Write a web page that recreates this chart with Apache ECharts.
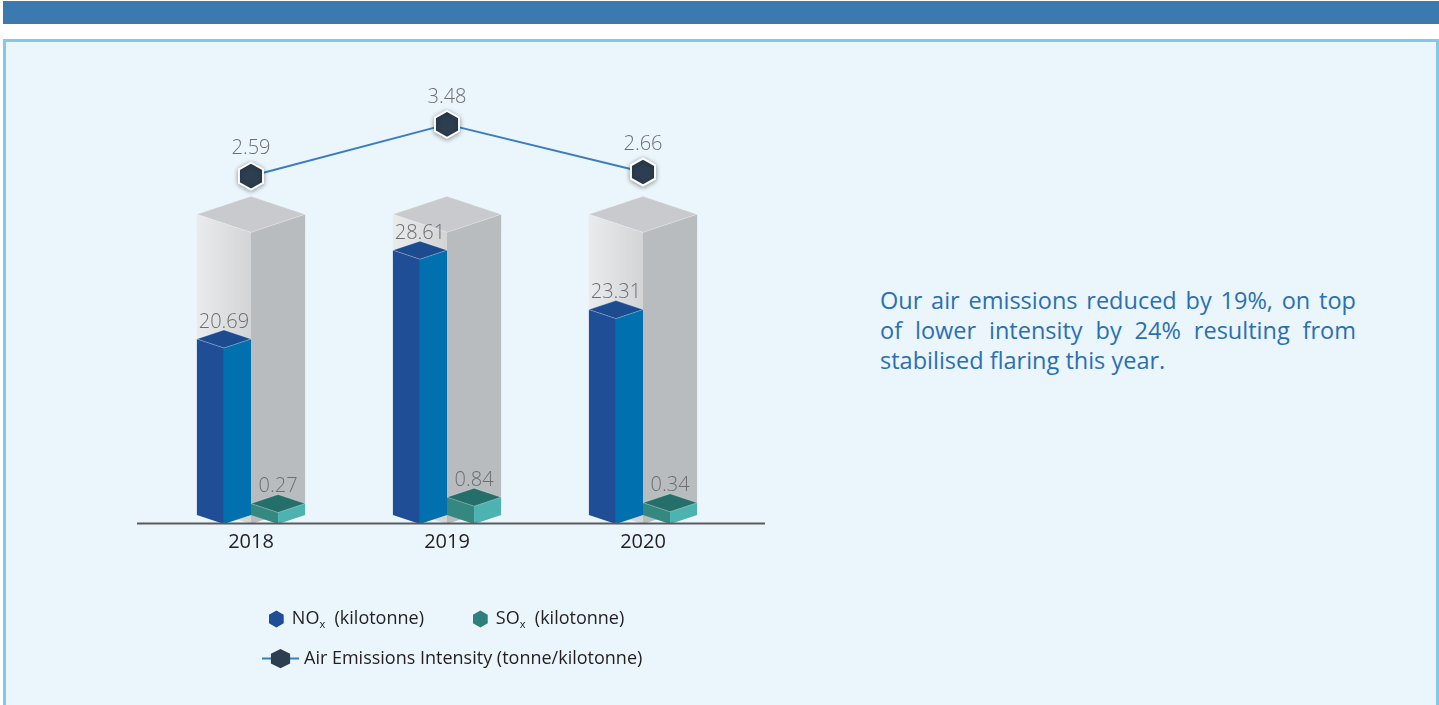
<!DOCTYPE html>
<html><head><meta charset="utf-8">
<script src="https://cdn.jsdelivr.net/npm/echarts@6/dist/echarts.min.js"></script>
<style>
html,body{margin:0;padding:0;width:1439px;height:705px;overflow:hidden;background:#fff;font-family:'Open Sans',sans-serif}
#bar{position:absolute;left:3px;top:1px;width:1436px;height:23px;background:#3c79ae}
#panel{position:absolute;left:3px;top:39px;width:1430px;height:700px;background:#eaf5fc;border:3px solid #86c6e6;}
#chart{position:absolute;left:0;top:0;width:1439px;height:705px}
#note{position:absolute;left:880px;top:285px;width:476px;color:#2a6fb3;font-size:23.5px;line-height:30px;font-family:'Open Sans',sans-serif}
#note span{display:block;text-align:justify;text-align-last:justify;white-space:nowrap}
#note span.last{text-align-last:left}
</style></head>
<body>
<div id="bar"></div>
<div id="panel"></div>
<div id="note"><span>Our air emissions reduced by 19%, on top</span><span>of lower intensity by 24% resulting from</span><span class="last">stabilised flaring this year.</span></div>
<div id="chart"></div>
<script>
// ---- data ----
const years = ['2018', '2019', '2020'];
const noxValues = [20.69, 28.61, 23.31];
const soxValues = [0.27, 0.84, 0.34];
const intensityValues = [2.59, 3.48, 2.66];
const backdropValues = [31, 31, 31];
const seriesNames = ['NOx (kilotonne)', 'SOx (kilotonne)', 'Air Emissions Intensity (tonne/kilotonne)'];

const FONT = 'Open Sans';
const HEX = 'path://M0,-1 L0.866,-0.5 L0.866,0.5 L0,1 L-0.866,0.5 L-0.866,-0.5 Z';

function prism(front, yTop, yBase, hw, d, c) {
  return [
    {type: 'polygon', shape: {points: [[front - hw, yTop - d], [front, yTop], [front, yBase], [front - hw, yBase - d]]},
     style: {fill: c.left}},
    {type: 'polygon', shape: {points: [[front, yTop], [front + hw, yTop - d], [front + hw, yBase - d], [front, yBase]]},
     style: {fill: c.right}},
    {type: 'polygon', shape: {points: [[front - hw, yTop - d], [front, yTop - 2 * d], [front + hw, yTop - d], [front, yTop]]},
     style: {fill: c.top, stroke: 'rgba(255,255,255,0.35)', lineWidth: 0.8}}
  ];
}

function makeRender(kind) {
  return function (params, api) {
    const i = api.value(0);
    const v = api.value(1);
    const p = api.coord([i, v]);
    const bandW = api.size([1, 0])[0];
    const hw = bandW * 0.138;
    const d = hw / 3;
    const yBase = params.coordSys.y + params.coordSys.height;
    const cx = p[0];
    let children;
    if (kind === 'grey') {
      children = prism(cx, p[1], yBase, hw * 2, d * 2, {
        left: new echarts.graphic.LinearGradient(0, 0, 1, 0, [{offset: 0, color: '#eaebec'}, {offset: 1, color: '#d2d4d6'}]),
        right: '#b9bcbf', top: '#c8cacd'
      });
    } else {
      const front = kind === 'nox' ? cx - hw : cx + hw;
      const cols = kind === 'nox'
        ? {left: '#1f4e96', right: '#0071ae', top: '#1d4b90'}
        : {left: '#348880', right: '#4db3b0', top: '#246f6a'};
      children = prism(front, p[1], yBase, hw, d, cols);
      children.push({type: 'text', style: {
        text: String(v), x: front, y: p[1] - 2 * d + 2, align: 'center', verticalAlign: 'bottom',
        fill: '#6d6e71', fontSize: 20, fontWeight: 300, fontFamily: FONT
      }});
    }
    return {type: 'group', children: children};
  };
}

const legendText = {
  fontSize: 18, color: '#231f20', fontFamily: FONT,
  rich: {
    g: {fontSize: 18, color: '#231f20', fontFamily: FONT, lineHeight: 22, padding: [0, 0, 0, 3]},
    a: {fontSize: 18, color: '#231f20', fontFamily: FONT, lineHeight: 22},
    s: {fontSize: 11, color: '#231f20', fontFamily: FONT, lineHeight: 11, verticalAlign: 'bottom'}
  }
};
function legendFmt(name) {
  if (name.indexOf('x (') > 0) {
    const head = name.slice(0, 2);
    return '{g|' + head + '}{s|x}{a|  (kilotonne)}';
  }
  return '{a|' + name + '}';
}

const chart = echarts.init(document.getElementById('chart'), null, {renderer: 'canvas'});
chart.setOption({
  backgroundColor: 'transparent',
  animation: false,
  grid: {left: 153, right: 698, top: 100, bottom: 181, containLabel: false},
  xAxis: {
    type: 'category', data: years,
    axisLine: {show: false}, axisTick: {show: false}, splitLine: {show: false},
    axisLabel: {fontSize: 20, color: '#231f20', fontFamily: FONT, margin: 8}
  },
  yAxis: [
    {type: 'value', min: 5, max: 42.8, show: false},
    {type: 'value', min: -0.75, max: 37.05, show: false},
    {type: 'value', min: -3.4, max: 3.9, show: false}
  ],
  legend: [
    {data: [{name: seriesNames[0], icon: HEX}], left: 264, top: 605, itemWidth: 15, itemHeight: 17,
     formatter: legendFmt, textStyle: legendText, selectedMode: false},
    {data: [{name: seriesNames[1], icon: HEX}], left: 468, top: 605, itemWidth: 15, itemHeight: 17,
     formatter: legendFmt, textStyle: legendText, selectedMode: false},
    {data: [{name: seriesNames[2]}], left: 256, top: 644, itemWidth: 37, itemHeight: 24,
     itemStyle: {borderWidth: 0, shadowBlur: 0},
     formatter: legendFmt, textStyle: legendText, selectedMode: false}
  ],
  graphic: [
    {type: 'line', shape: {x1: 137, y1: 523.5, x2: 765, y2: 523.5}, style: {stroke: '#5a5b5d', lineWidth: 2}, z: 100}
  ],
  series: [
    {type: 'custom', name: 'backdrop', yAxisIndex: 0, renderItem: makeRender('grey'),
     data: backdropValues.map((v, i) => [i, v]), encode: {x: 0, y: 1}, silent: true},
    {type: 'custom', name: seriesNames[0], yAxisIndex: 0, renderItem: makeRender('nox'),
     itemStyle: {color: '#1f4e96'}, data: noxValues.map((v, i) => [i, v]), encode: {x: 0, y: 1}},
    {type: 'custom', name: seriesNames[1], yAxisIndex: 1, renderItem: makeRender('sox'),
     itemStyle: {color: '#2f7f7c'}, data: soxValues.map((v, i) => [i, v]), encode: {x: 0, y: 1}},
    {type: 'line', name: seriesNames[2], yAxisIndex: 2, data: intensityValues, clip: false,
     symbol: HEX, symbolSize: [24, 27], z: 10,
     lineStyle: {color: '#3a7dc0', width: 2},
     itemStyle: {color: '#2d3e50', borderColor: '#ffffff', borderWidth: 2,
                 shadowBlur: 5, shadowColor: 'rgba(0,0,0,0.35)', shadowOffsetY: 1},
     label: {show: true, position: 'top', distance: 3, fontSize: 20, fontWeight: 300, color: '#6d6e71', fontFamily: FONT}}
  ]
});
</script>
</body></html>
